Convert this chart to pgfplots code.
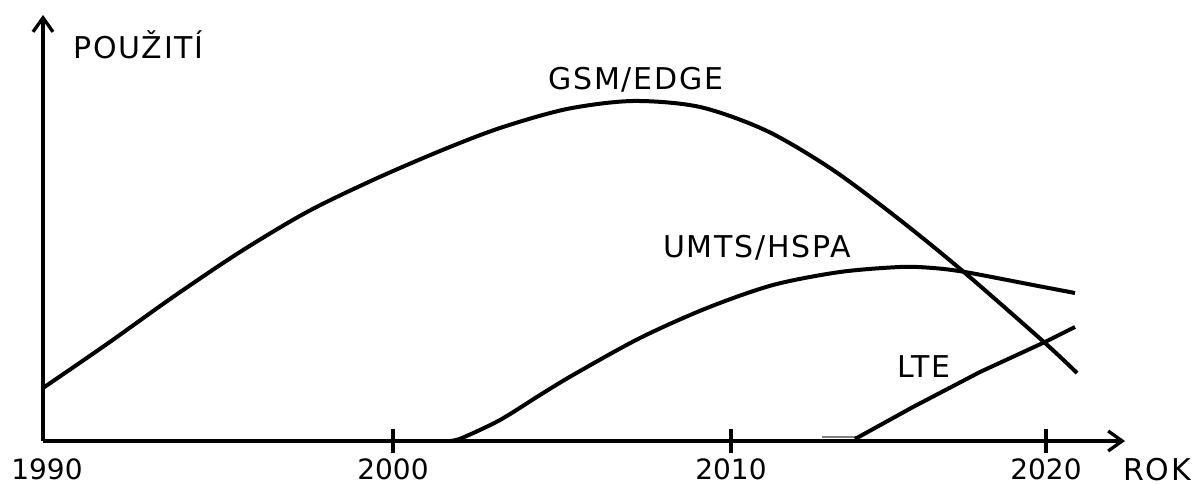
\documentclass[border=0pt]{standalone}
\usepackage{pgfplots}
\pgfplotsset{compat=1.18}
\usetikzlibrary{arrows.meta}
\usepackage{fontspec}
\setmainfont{DejaVu Sans}
\newfontfamily\labelfont[LetterSpace=6]{DejaVu Sans}

\begin{document}
\begin{tikzpicture}
\path[use as bounding box] (-43pt,-42pt) rectangle (1149pt,441pt);
\begin{axis}[
  at={(0,0)}, anchor=south west,
  x=1pt, y=1pt,
  xmin=43, xmax=1125, ymin=0, ymax=426,
  axis lines=left,
  axis line style={line width=3.3pt, -{Straight Barb[length=14pt,width=20pt]}},
  xtick={393,731,1046},
  xticklabels={2000,2010,2020},
  extra x ticks={47},
  extra x tick labels={1990},
  extra x tick style={major tick length=0pt, xticklabel style={yshift=-12pt}},
  ytick=\empty,
  tick align=center,
  major tick length=24pt,
  every tick/.style={black, line width=3.3pt},
  xticklabel style={font=\fontsize{28}{30}\selectfont, anchor=base, inner sep=0pt, yshift=-26pt},
  clip=false,
]
% GSM/EDGE
\addplot[line width=4pt, smooth] coordinates {(43,53) (107,97) (173,144) (240,189) (307,229) (373,261) (440,290) (500,313) (567,332) (633,340) (700,334) (767,310) (833,271) (900,221) (965,168) (1045,98) (1077,68)};
% UMTS/HSPA
\addplot[line width=4pt, smooth] coordinates {(450,0) (462,3) (500,21) (540,46) (573,66) (640,103) (707,133) (773,156) (840,169) (900,174) (933,173) (965,169) (1033,156) (1075,148)};
% LTE
\addplot[line width=1.5pt, gray] coordinates {(822,4) (857,4)};
\addplot[line width=4pt] coordinates {(855,2) (913,34) (980,69) (1045,99) (1075,114)};
\node[anchor=base west, inner sep=0pt, font=\labelfont\fontsize{30}{32}\selectfont] at (axis cs:73,382) {POUŽITÍ};
\node[anchor=base west, inner sep=0pt, font=\labelfont\fontsize{30}{32}\selectfont] at (axis cs:548,351) {GSM/EDGE};
\node[anchor=base west, inner sep=0pt, font=\labelfont\fontsize{30}{32}\selectfont] at (axis cs:663,184) {UMTS/HSPA};
\node[anchor=base west, inner sep=0pt, font=\labelfont\fontsize{30}{32}\selectfont] at (axis cs:897,64) {LTE};
\node[anchor=base west, inner sep=0pt, font=\labelfont\fontsize{30}{32}\selectfont] at (axis cs:1123,-39) {ROK};
\end{axis}
\end{tikzpicture}
\end{document}
